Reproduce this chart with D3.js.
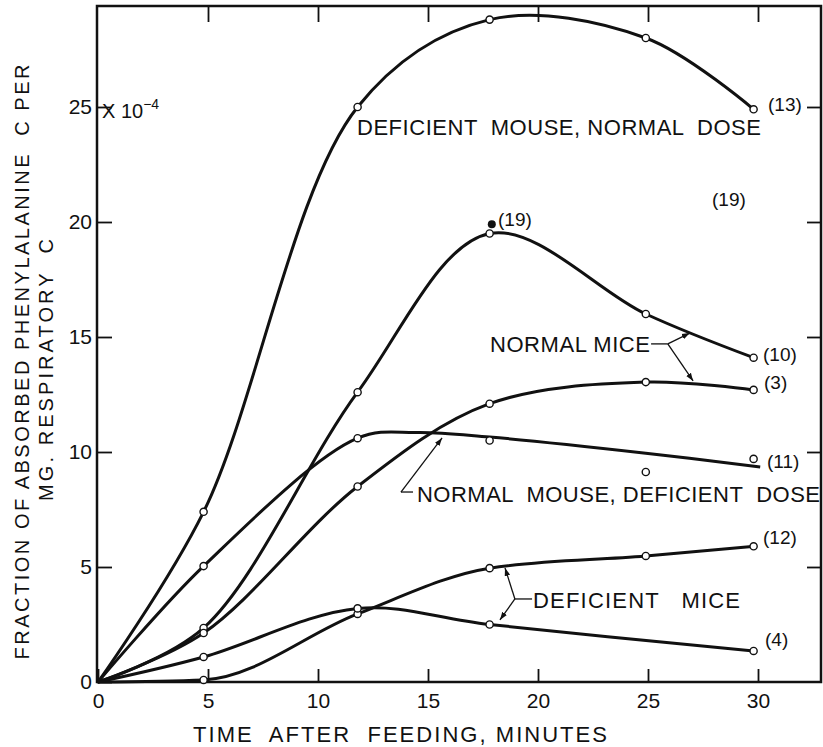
<!DOCTYPE html>
<html>
<head>
<meta charset="utf-8">
<script src="https://cdn.jsdelivr.net/npm/d3@7"></script>
<style>
  html, body { margin: 0; padding: 0; background: #fff; }
  svg { display: block; font-family: "Liberation Sans", Arial, sans-serif; }
</style>
</head>
<body>
<svg id="chart" width="823" height="747"></svg>
<script>
// sample times, minutes after feeding (as plotted)
const times = [0, 4.8, 11.8, 17.8, 24.9, 29.8];

// fraction of absorbed phenylalanine C per mg respiratory C, x 10^-4
const deficientMouseNormalDose = [0, 7.4, 25.0, 28.8, 28.0, 24.9];        // (13)
const normalMice10 = [0, 2.35, 12.6, 19.5, 16.0, 14.1];                   // (10)
const normalMice3 = [0, 2.13, 8.5, 12.1, 13.04, 12.7];                    // (3)
const normalMouseDeficientDose = [null, 5.04, 10.6, 10.5, 9.13, 9.7];     // (11) measured points
const deficientMice12 = [0, 0.09, 2.96, 4.95, 5.48, 5.9];                 // (12)
const deficientMice4 = [0, 1.09, 3.2, 2.5, null, 1.35];                   // (4)

// hand-drawn curve for (11) -- smoothed, misses the last two points
const fitTimes = [0, 4.8, 11.8, 14.5, 17.8, 24.9, 30.1];
const fitNormalDeficientDose = [0, 5.04, 10.6, 10.85, 10.65, 9.95, 9.35];

// the single solid point marked (19)
const solidTime = 17.9;
const solidValue = 19.9;

const xTicks = [0, 5, 10, 15, 20, 25, 30];
const yTicks = [0, 5, 10, 15, 20, 25];

const svg = d3.select('#chart');
const frame = { left: 97, top: 6, right: 821, bottom: 682 };

const x = d3.scaleLinear().domain([0, 30]).range([98, 758]);
const y = d3.scaleLinear().domain([0, 25]).range([682, 107]);

// arrowhead
svg.append('defs').append('marker')
  .attr('id', 'arrow')
  .attr('viewBox', '0 0 10 10')
  .attr('refX', 10).attr('refY', 5)
  .attr('markerWidth', 8).attr('markerHeight', 8)
  .attr('markerUnits', 'userSpaceOnUse')
  .attr('orient', 'auto')
  .append('path').attr('d', 'M0,1.5L10,5L0,8.5Z').attr('fill', '#111');

// frame
svg.append('rect')
  .attr('x', frame.left).attr('y', frame.top)
  .attr('width', frame.right - frame.left).attr('height', frame.bottom - frame.top)
  .attr('fill', 'none').attr('stroke', '#111').attr('stroke-width', 2.5);

function styleAxis(g) {
  g.select('.domain').remove();
  g.selectAll('.tick line').attr('stroke', '#111').attr('stroke-width', 1.8);
  g.selectAll('.tick text').attr('fill', '#111').attr('font-size', 21)
    .attr('font-family', '"Liberation Sans", Arial, sans-serif');
}

svg.append('g').attr('transform', `translate(0,${frame.bottom})`)
  .call(d3.axisBottom(x).tickValues(xTicks).tickSize(-13).tickPadding(11))
  .call(styleAxis);

svg.append('g').attr('transform', `translate(0,${frame.top})`)
  .call(d3.axisTop(x).tickValues(xTicks.slice(1)).tickSize(-16).tickFormat(''))
  .call(styleAxis);

svg.append('g').attr('transform', `translate(${frame.left},0)`)
  .call(d3.axisLeft(y).tickValues(yTicks).tickSize(-15).tickPadding(5))
  .call(styleAxis);

svg.append('g').attr('transform', `translate(${frame.right},0)`)
  .call(d3.axisRight(y).tickValues(yTicks.slice(1)).tickSize(-14).tickFormat(''))
  .call(styleAxis);

// "X 10^-4" next to the 25 label
const mult = svg.append('text')
  .attr('x', 102).attr('y', y(25) + 11)
  .attr('font-size', 20).attr('fill', '#111')
  .text('X 10');
mult.append('tspan').attr('dy', -9).attr('font-size', 14).text('−4');

// curves
const smooth = d3.curveCatmullRom.alpha(0.5);
const line = curve => d3.line()
  .defined(d => d[1] != null)
  .x(d => x(d[0])).y(d => y(d[1]))
  .curve(curve);

const series = [
  { values: deficientMouseNormalDose, curve: smooth },
  { values: normalMice10, curve: smooth },
  { values: normalMice3, curve: smooth },
  { values: deficientMice12, curve: d3.curveMonotoneX },  // hugs the axis early on
  { values: deficientMice4, curve: smooth }
];

const pairs = vals => times.map((t, i) => [t, vals[i]]).filter(d => d[1] != null);

const curves = svg.append('g').attr('fill', 'none').attr('stroke', '#111')
  .attr('stroke-width', 3).attr('stroke-linejoin', 'round');

series.forEach(s => {
  curves.append('path').attr('d', line(s.curve)(pairs(s.values)));
});
curves.append('path')
  .attr('d', line(smooth)(fitTimes.map((t, i) => [t, fitNormalDeficientDose[i]])));

// open circle markers (skip the origin)
const markerData = [];
[deficientMouseNormalDose, normalMice10, normalMice3, normalMouseDeficientDose,
 deficientMice12, deficientMice4].forEach(vals => {
  pairs(vals).forEach(d => { if (d[0] > 0) markerData.push(d); });
});

svg.append('g').selectAll('circle.pt').data(markerData).join('circle')
  .attr('class', 'pt')
  .attr('cx', d => x(d[0])).attr('cy', d => y(d[1]))
  .attr('r', 3.6)
  .attr('fill', '#fff').attr('stroke', '#111').attr('stroke-width', 1.4);

svg.append('circle')
  .attr('cx', x(solidTime)).attr('cy', y(solidValue))
  .attr('r', 4).attr('fill', '#111');

// leader lines and arrows (data coords)
const leaders = [
  { from: [25.14, 14.70], to: [25.9, 14.70], arrow: false },
  { from: [25.9, 14.70], to: [26.9, 15.17], arrow: true },
  { from: [25.9, 14.70], to: [27.05, 13.09], arrow: true },
  { from: [14.32, 8.26], to: [13.77, 8.26], arrow: false },
  { from: [13.77, 8.26], to: [15.64, 10.61], arrow: true },
  { from: [19.73, 3.61], to: [18.95, 3.61], arrow: false },
  { from: [18.95, 3.61], to: [18.5, 4.96], arrow: true },
  { from: [18.95, 3.61], to: [18.27, 2.70], arrow: true }
];

svg.append('g').selectAll('line').data(leaders).join('line')
  .attr('x1', d => x(d.from[0])).attr('y1', d => y(d.from[1]))
  .attr('x2', d => x(d.to[0])).attr('y2', d => y(d.to[1]))
  .attr('stroke', '#111').attr('stroke-width', 1.3)
  .attr('marker-end', d => d.arrow ? 'url(#arrow)' : null);

// text labels
const labels = [
  { text: 'DEFICIENT  MOUSE, NORMAL  DOSE', x: 357, y: 135, size: 22, len: 404 },
  { text: 'NORMAL MICE', x: 490, y: 352, size: 22, len: 160 },
  { text: 'NORMAL  MOUSE, DEFICIENT  DOSE', x: 417, y: 502, size: 22, len: 403 },
  { text: 'DEFICIENT   MICE', x: 533, y: 608, size: 22, len: 207 },
  { text: '(13)', x: 768, y: 111, size: 19 },
  { text: '(19)', x: 712, y: 206, size: 19 },
  { text: '(19)', x: 498, y: 226, size: 19 },
  { text: '(10)', x: 763, y: 361, size: 19 },
  { text: '(3)', x: 764, y: 389, size: 19 },
  { text: '(11)', x: 767, y: 468, size: 19 },
  { text: '(12)', x: 763, y: 544, size: 19 },
  { text: '(4)', x: 765, y: 646, size: 19 }
];

svg.append('g').selectAll('text').data(labels).join('text')
  .attr('x', d => d.x).attr('y', d => d.y)
  .attr('font-size', d => d.size).attr('fill', '#111')
  .attr('textLength', d => d.len || null)
  .attr('lengthAdjust', 'spacing')
  .style('white-space', 'pre')
  .text(d => d.text);

// axis titles
svg.append('text')
  .attr('x', 193).attr('y', 742)
  .attr('font-size', 22).attr('fill', '#111')
  .attr('textLength', 414).attr('lengthAdjust', 'spacing')
  .style('white-space', 'pre')
  .text('TIME  AFTER  FEEDING, MINUTES');

svg.append('text')
  .attr('transform', 'translate(29,362) rotate(-90)')
  .attr('text-anchor', 'middle')
  .attr('font-size', 20).attr('fill', '#111')
  .attr('textLength', 595).attr('lengthAdjust', 'spacing')
  .style('white-space', 'pre')
  .text('FRACTION OF ABSORBED PHENYLALANINE  C PER');

svg.append('text')
  .attr('transform', 'translate(53,370) rotate(-90)')
  .attr('text-anchor', 'middle')
  .attr('font-size', 20).attr('fill', '#111')
  .attr('textLength', 262).attr('lengthAdjust', 'spacing')
  .style('white-space', 'pre')
  .text('MG. RESPIRATORY  C');
</script>
</body>
</html>
